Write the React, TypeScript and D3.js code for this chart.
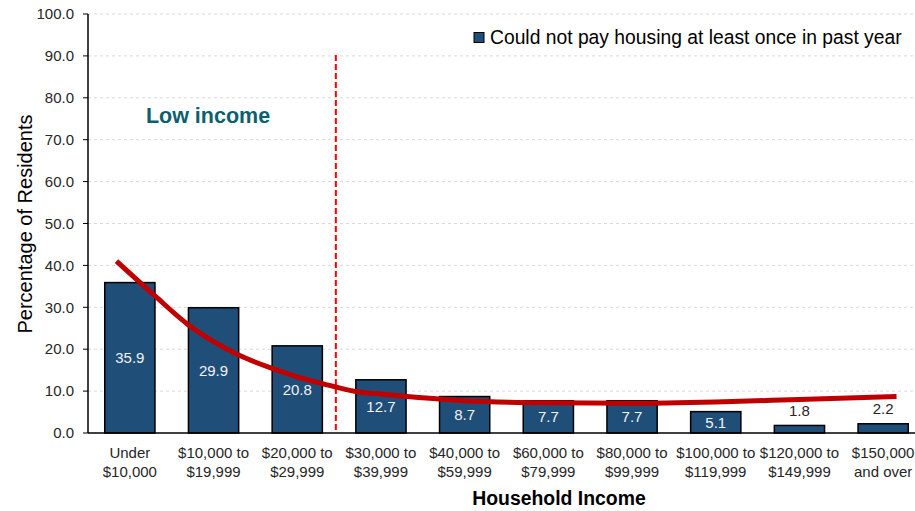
import { useEffect, useRef } from "react";
import * as d3 from "d3";

const categories = [
  ["Under", "$10,000"],
  ["$10,000 to", "$19,999"],
  ["$20,000 to", "$29,999"],
  ["$30,000 to", "$39,999"],
  ["$40,000 to", "$59,999"],
  ["$60,000 to", "$79,999"],
  ["$80,000 to", "$99,999"],
  ["$100,000 to", "$119,999"],
  ["$120,000 to", "$149,999"],
  ["$150,000", "and over"],
];
const values = [35.9, 29.9, 20.8, 12.7, 8.7, 7.7, 7.7, 5.1, 1.8, 2.2];
// trend line (category index, percent)
const trendIdx = [-0.16, 0.3, 0.7, 1, 1.3, 1.7, 2, 2.3, 2.7, 3, 4, 5, 6, 7, 8, 9.16];
const trendVal = [41.0, 32.7, 25.8, 21.8, 18.6, 15.4, 13.4, 11.8, 9.9, 9.3, 7.7, 7.2, 7.1, 7.4, 8.0, 8.7];
const yTicks = [0, 10, 20, 30, 40, 50, 60, 70, 80, 90, 100];
const legendLabel = "Could not pay housing at least once in past year";

export default function App() {
  const svgRef = useRef<SVGSVGElement>(null);

  useEffect(() => {
    if (!svgRef.current) return;
    const svg = d3.select(svgRef.current);
    svg.selectAll("*").remove();

    const width = 915;
    const height = 511;
    const left = 88;
    const right = 925;
    const top = 14;
    const bottom = 433;
    const font = "Liberation Sans, Arial, sans-serif";

    const x = d3
      .scaleBand<number>()
      .domain(d3.range(categories.length))
      .range([left, right])
      .paddingInner(0.4)
      .paddingOuter(0.2);
    const y = d3.scaleLinear().domain([0, 100]).range([bottom, top]);
    const xc = (i: number) => x(0)! + x.bandwidth() / 2 + i * x.step();

    svg.append("rect").attr("width", width).attr("height", height).attr("fill", "#fff");

    // gridlines
    svg
      .append("g")
      .selectAll("line")
      .data(yTicks.filter((t) => t > 0))
      .join("line")
      .attr("x1", left)
      .attr("x2", width)
      .attr("y1", (d) => y(d))
      .attr("y2", (d) => y(d))
      .attr("stroke", "#d9d9d9")
      .attr("stroke-dasharray", "3,3");

    // y ticks + labels
    const yg = svg.append("g");
    yTicks.forEach((t) => {
      yg.append("line")
        .attr("x1", left - 5)
        .attr("x2", left)
        .attr("y1", y(t))
        .attr("y2", y(t))
        .attr("stroke", "#000");
      yg.append("text")
        .attr("x", 74)
        .attr("y", y(t))
        .attr("dy", "0.35em")
        .attr("text-anchor", "end")
        .attr("font-family", font)
        .attr("font-size", 15)
        .attr("fill", "#262626")
        .text(t.toFixed(1));
    });

    // bars
    svg
      .append("g")
      .selectAll("rect")
      .data(values)
      .join("rect")
      .attr("x", (_, i) => x(i)!)
      .attr("y", (d) => y(d))
      .attr("width", x.bandwidth())
      .attr("height", (d) => bottom - y(d))
      .attr("fill", "#1f4e79")
      .attr("stroke", "#000")
      .attr("stroke-width", 1.5);

    // value labels
    svg
      .append("g")
      .selectAll("text")
      .data(values)
      .join("text")
      .attr("x", (_, i) => xc(i))
      .attr("y", (d) => (d < 4 ? y(d) - 15 : (y(d) + bottom) / 2))
      .attr("dy", "0.35em")
      .attr("text-anchor", "middle")
      .attr("font-family", font)
      .attr("font-size", 15)
      .attr("fill", (d) => (d < 4 ? "#262626" : "#f2f2f2"))
      .text((d) => d.toFixed(1));

    // axes lines
    svg.append("line").attr("x1", left).attr("x2", left).attr("y1", top).attr("y2", bottom).attr("stroke", "#000").attr("stroke-width", 1.5);
    svg.append("line").attr("x1", left).attr("x2", width).attr("y1", bottom).attr("y2", bottom).attr("stroke", "#000").attr("stroke-width", 1.5);

    // category labels
    const xl = svg.append("g");
    categories.forEach((c, i) => {
      c.forEach((line, j) => {
        xl.append("text")
          .attr("x", xc(i))
          .attr("y", 453 + j * 19)
          .attr("dy", "0.35em")
          .attr("text-anchor", "middle")
          .attr("font-family", font)
          .attr("font-size", 15)
          .attr("fill", "#262626")
          .text(line);
      });
    });

    // low income divider
    const divX = x(3)! - 20;
    svg
      .append("line")
      .attr("x1", divX)
      .attr("x2", divX)
      .attr("y1", y(90) - 1)
      .attr("y2", bottom)
      .attr("stroke", "#ff0000")
      .attr("stroke-width", 2)
      .attr("stroke-dasharray", "6,3");

    // trend line
    const line = d3
      .line<number>()
      .x((_, i) => xc(trendIdx[i]))
      .y((d) => y(d))
      .curve(d3.curveMonotoneX);
    svg
      .append("path")
      .attr("d", line(trendVal))
      .attr("fill", "none")
      .attr("stroke", "#c00000")
      .attr("stroke-width", 5);

    svg
      .append("text")
      .attr("x", 208)
      .attr("y", 123)
      .attr("text-anchor", "middle")
      .attr("font-family", font)
      .attr("font-size", 21.5)
      .attr("font-weight", "bold")
      .attr("fill", "#0e5f6e")
      .text("Low income");

    // legend
    svg
      .append("rect")
      .attr("x", 474)
      .attr("y", 32.5)
      .attr("width", 10)
      .attr("height", 10)
      .attr("fill", "#1f4e79")
      .attr("stroke", "#000");
    svg
      .append("text")
      .attr("x", 490)
      .attr("y", 43.5)
      .attr("font-family", font)
      .attr("font-size", 19.3)
      .attr("fill", "#000")
      .text(legendLabel);

    // axis titles
    svg
      .append("text")
      .attr("transform", `translate(32,224) rotate(-90)`)
      .attr("text-anchor", "middle")
      .attr("font-family", font)
      .attr("font-size", 20)
      .attr("fill", "#000")
      .text("Percentage of Residents");
    svg
      .append("text")
      .attr("x", 559)
      .attr("y", 505)
      .attr("text-anchor", "middle")
      .attr("font-family", font)
      .attr("font-size", 19.4)
      .attr("font-weight", "bold")
      .attr("fill", "#000")
      .text("Household Income");
  }, []);

  return (
    <svg
      ref={svgRef}
      width={915}
      height={511}
      style={{ position: "absolute", left: 0, top: 0, display: "block" }}
    />
  );
}
